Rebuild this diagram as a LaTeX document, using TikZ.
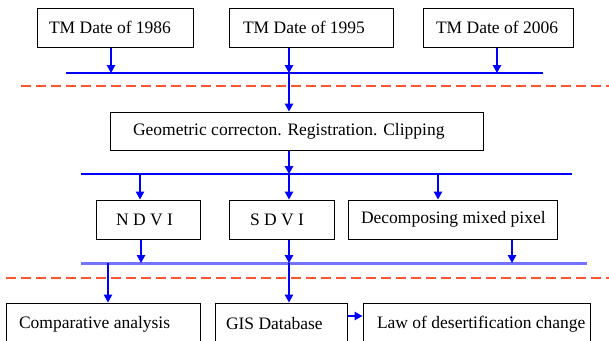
\documentclass[tikz,border=0pt]{standalone}
\usepackage{fontspec}
\setmainfont{Liberation Serif}
\usetikzlibrary{arrows.meta}
\definecolor{busblue}{RGB}{0,0,255}
\definecolor{lightbus}{RGB}{115,115,255}
\definecolor{sepred}{RGB}{255,85,45}
\newcommand{\padtxt}[2]{\makebox[#1][l]{#2}}
\tikzset{
  box/.style={draw=black, line width=1pt, inner sep=0pt, font=\fontsize{17.5}{20}\selectfont},
  arr/.style={draw=busblue, line width=1.2pt, -{Triangle[length=8pt,width=8.5pt]}},
  bus/.style={draw=busblue, line width=1.4pt},
  fatbus/.style={draw=lightbus, line width=3pt},
  sep/.style={draw=sepred, line width=1.5pt, dash pattern=on 10pt off 5pt}
}
\begin{document}
\begin{tikzpicture}[x=1pt,y=-1pt]
\useasboundingbox (0,0) rectangle (609,340);
% top boxes
\node[box, minimum width=156pt, minimum height=39pt] (t86) at (115,27.5) {\padtxt{132pt}{TM Date of 1986}};
\node[box, minimum width=164pt, minimum height=39pt] (t95) at (311,27.5) {\padtxt{136pt}{TM Date of 1995}};
\node[box, minimum width=150pt, minimum height=39pt] (t06) at (498,27.5) {\padtxt{124pt}{TM Date of 2006}};
% bus 1
\coordinate (b1L) at (66,73);
\coordinate (b1R) at (543,73);
\coordinate (j1a) at (111,73);
\coordinate (j1b) at (289,73);
\coordinate (j1c) at (497,73);
\draw[bus] (b1L) -- (b1R);
\draw[arr] (t86.south -| j1a) -- (j1a);
\draw[arr] (t95.south -| j1b) -- (j1b);
\draw[arr] (t06.south -| j1c) -- (j1c);
% separator 1
\coordinate (s1L) at (21,86);
\coordinate (s1R) at (612,86);
\draw[sep] (s1L) -- (s1R);
% geometric box
\node[box, minimum width=373pt, minimum height=38pt] (geo) at (296.5,131) {\padtxt{327pt}{Geometric correcton. Registration. Clipping}};
\draw[arr] (j1b) -- (j1b |- geo.north);
% bus 2
\coordinate (b2L) at (81,174);
\coordinate (b2R) at (572,174);
\coordinate (j2a) at (140,174);
\coordinate (j2b) at (289,174);
\coordinate (j2c) at (438,174);
\draw[bus] (b2L) -- (b2R);
\draw[arr] (geo.south -| j2b) -- (j2b);
% middle boxes
\node[box, minimum width=104pt, minimum height=39pt] (ndvi) at (148,219.5) {\padtxt{64pt}{N D V I}};
\node[box, minimum width=105pt, minimum height=39pt] (sdvi) at (281.5,219.5) {\padtxt{63pt}{S D V I}};
\node[box, minimum width=209pt, minimum height=39pt] (dmp) at (452.5,219.5) {\padtxt{183pt}{Decomposing mixed pixel}};
\draw[arr] (j2a) -- (j2a |- ndvi.north);
\draw[arr] (j2b) -- (j2b |- sdvi.north);
\draw[arr] (j2c) -- (j2c |- dmp.north);
% bus 3
\coordinate (b3L) at (81,263);
\coordinate (b3R) at (587,263);
\coordinate (j3a) at (141,263);
\coordinate (j3b) at (289,263);
\coordinate (j3c) at (512,263);
\coordinate (j3d) at (108,263);
\draw[fatbus] (b3L) -- (b3R);
\draw[arr] (ndvi.south -| j3a) -- (j3a);
\draw[arr] (sdvi.south -| j3b) -- (j3b);
\draw[arr] (dmp.south -| j3c) -- (j3c);
% separator 2
\coordinate (s2L) at (6,278);
\coordinate (s2R) at (612,278);
\draw[sep] (s2L) -- (s2R);
% bottom boxes
\node[box, minimum width=194pt, minimum height=42pt] (comp) at (103,324) {\padtxt{168pt}{Comparative analysis}};
\node[box, minimum width=132pt, minimum height=42pt] (gis) at (281,324) {\padtxt{110pt}{GIS Database}};
\node[box, minimum width=227pt, minimum height=42pt] (law) at (476.5,324) {\padtxt{199pt}{Law of desertification change}};
\draw[arr] (j3d) -- (j3d |- comp.north);
\draw[arr] (j3b) -- (j3b |- gis.north);
\coordinate (ya) at (0,316);
\draw[arr] (gis.east |- ya) -- (law.west |- ya);
\end{tikzpicture}
\end{document}
